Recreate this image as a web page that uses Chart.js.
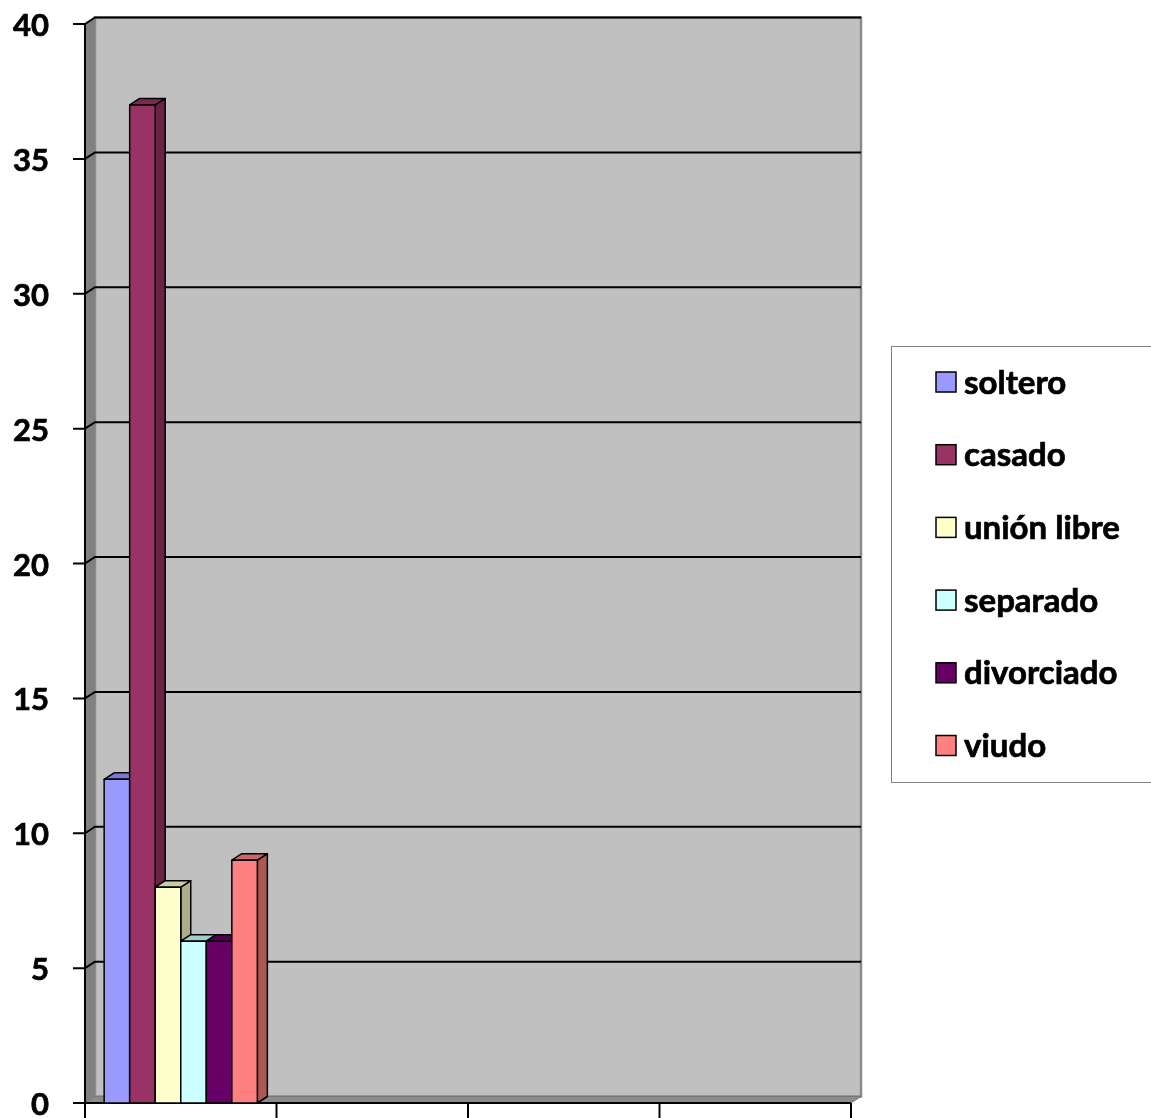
<!DOCTYPE html>
<html>
<head>
<meta charset="utf-8">
<title>Estado civil</title>
<script src="https://cdn.jsdelivr.net/npm/chart.js@4.4.1/dist/chart.umd.min.js"></script>
<style>
  html, body { margin: 0; padding: 0; background: #ffffff; }
  #wrap { position: relative; width: 1151px; height: 1118px; }
</style>
</head>
<body>
<div id="wrap"><canvas id="chart" width="1151" height="1118"></canvas></div>
<script>
// Category slots along the x axis (only the first one holds values)
const categories = ['', '', '', ''];

// Series names and counts
const seriesNames = ['soltero', 'casado', 'unión libre', 'separado', 'divorciado', 'viudo'];
const soltero    = [12, null, null, null];
const casado     = [37, null, null, null];
const unionLibre = [8,  null, null, null];
const separado   = [6,  null, null, null];
const divorciado = [6,  null, null, null];
const viudo      = [9,  null, null, null];
const seriesValues = [soltero, casado, unionLibre, separado, divorciado, viudo];

// Value axis ticks
const yTicks = [0, 5, 10, 15, 20, 25, 30, 35, 40];

// Fill colours per series
const seriesColors = ['#9999FF', '#993366', '#FFFFCC', '#CCFFFF', '#660066', '#FF8080'];

const FONT = 'Lato, "Liberation Sans", sans-serif';
const DX = 10, DY = -6.5;   // depth offset of the 3D box

function shade(hex, f) {
  const n = parseInt(hex.slice(1), 16);
  const r = Math.round(((n >> 16) & 255) * f);
  const g = Math.round(((n >> 8) & 255) * f);
  const b = Math.round((n & 255) * f);
  return `rgb(${r},${g},${b})`;
}

function poly(ctx, pts, fill, stroke, lw) {
  ctx.beginPath();
  ctx.moveTo(pts[0][0], pts[0][1]);
  for (let i = 1; i < pts.length; i++) ctx.lineTo(pts[i][0], pts[i][1]);
  ctx.closePath();
  if (fill) { ctx.fillStyle = fill; ctx.fill(); }
  if (stroke) { ctx.strokeStyle = stroke; ctx.lineWidth = lw || 1; ctx.stroke(); }
}

// Heavy label text: filled plus a thin outline of the same colour
function heavyText(ctx, s, x, y) {
  ctx.fillText(s, x, y);
  ctx.lineWidth = 0.7;
  ctx.strokeStyle = ctx.fillStyle;
  ctx.strokeText(s, x, y);
}

// Walls, floor, gridlines, axes and 3D columns
const boxPlugin = {
  id: 'box3d',
  beforeDatasetsDraw(chart) {
    const ctx = chart.ctx;
    const { left, right, top, bottom } = chart.chartArea;
    const y = chart.scales.y, x = chart.scales.x;
    ctx.save();
    // back wall
    poly(ctx, [[left + DX, top + DY], [right + DX, top + DY], [right + DX, bottom + DY], [left + DX, bottom + DY]],
         '#C0C0C0', '#8a8a8a', 2.5);
    // side wall
    poly(ctx, [[left, top], [left + DX, top + DY], [left + DX, bottom + DY], [left, bottom]], '#808080', null);
    // floor
    poly(ctx, [[left, bottom], [left + DX, bottom + DY], [right + DX, bottom + DY], [right, bottom]], '#8c8c8c', '#777777', 1);
    // gridlines running over the side wall and along the back wall
    ctx.strokeStyle = '#000000';
    ctx.lineWidth = 2;
    yTicks.forEach(v => {
      if (v === 0) return;
      const py = y.getPixelForValue(v);
      ctx.beginPath();
      ctx.moveTo(left, py);
      ctx.lineTo(left + DX, py + DY);
      ctx.lineTo(right + DX, py + DY);
      ctx.stroke();
    });
    // value axis line, tick marks and labels
    ctx.beginPath();
    ctx.moveTo(left, top);
    ctx.lineTo(left, bottom);
    yTicks.forEach(v => {
      const py = y.getPixelForValue(v);
      ctx.moveTo(left - 12, py);
      ctx.lineTo(left, py);
    });
    ctx.stroke();
    ctx.fillStyle = '#000';
    ctx.font = `bold 31px ${FONT}`;
    ctx.textAlign = 'right';
    ctx.textBaseline = 'middle';
    yTicks.forEach(v => {
      heavyText(ctx, String(v), left - 36, y.getPixelForValue(v) + 2);
    });
    // category axis line and tick marks at slot boundaries
    ctx.strokeStyle = '#000000';
    ctx.lineWidth = 2;
    ctx.beginPath();
    ctx.moveTo(left, bottom);
    ctx.lineTo(right, bottom);
    const n = categories.length;
    for (let i = 0; i <= n; i++) {
      const px = x.left + i * (x.width / n);
      ctx.moveTo(px, bottom);
      ctx.lineTo(px, bottom + 16);
    }
    ctx.stroke();
    ctx.restore();

    // 3D columns
    chart.data.datasets.forEach((ds, di) => {
      const meta = chart.getDatasetMeta(di);
      meta.data.forEach((el, j) => {
        if (ds.data[j] == null) return;
        const w = el.width;
        const l = el.x - w / 2, r = el.x + w / 2;
        const t = el.y, b = el.base;
        const c = ds.backgroundColor;
        ctx.save();
        ctx.lineJoin = 'round';
        poly(ctx, [[r, t], [r + DX, t + DY], [r + DX, b + DY], [r, b]], shade(c, 0.68), '#000', 1.5);
        poly(ctx, [[l, t], [l + DX, t + DY], [r + DX, t + DY], [r, t]], shade(c, 0.8), '#000', 1.5);
        poly(ctx, [[l, t], [r, t], [r, b], [l, b]], c, '#000', 1.5);
        ctx.restore();
      });
    });
    return false;
  },
  afterDraw(chart) {
    // legend box
    const ctx = chart.ctx;
    ctx.save();
    ctx.strokeStyle = '#808080';
    ctx.lineWidth = 1;
    ctx.strokeRect(891.5, 346.5, 280, 436);
    ctx.font = `bold 33px ${FONT}`;
    ctx.textBaseline = 'middle';
    ctx.textAlign = 'left';
    chart.data.datasets.forEach((ds, i) => {
      const cy = 382 + i * 72.7;
      ctx.fillStyle = ds.backgroundColor;
      ctx.fillRect(936, cy - 10, 20, 20);
      ctx.strokeStyle = '#000';
      ctx.lineWidth = 1.5;
      ctx.strokeRect(936, cy - 10, 20, 20);
      ctx.fillStyle = '#000';
      heavyText(ctx, ds.label, 964, cy + 1);
    });
    ctx.restore();
  }
};

new Chart(document.getElementById('chart'), {
  type: 'bar',
  data: {
    labels: categories,
    datasets: seriesNames.map((name, i) => ({
      label: name,
      data: seriesValues[i],
      backgroundColor: seriesColors[i],
      barPercentage: 1,
      categoryPercentage: 0.8
    }))
  },
  options: {
    responsive: false,
    animation: false,
    devicePixelRatio: 1,
    layout: { padding: { top: 24, right: 300, left: 85, bottom: 15 } },
    plugins: { legend: { display: false }, tooltip: { enabled: false } },
    scales: {
      x: { display: false },
      y: { display: false, min: 0, max: 40 }
    }
  },
  plugins: [boxPlugin]
});
</script>
</body>
</html>
